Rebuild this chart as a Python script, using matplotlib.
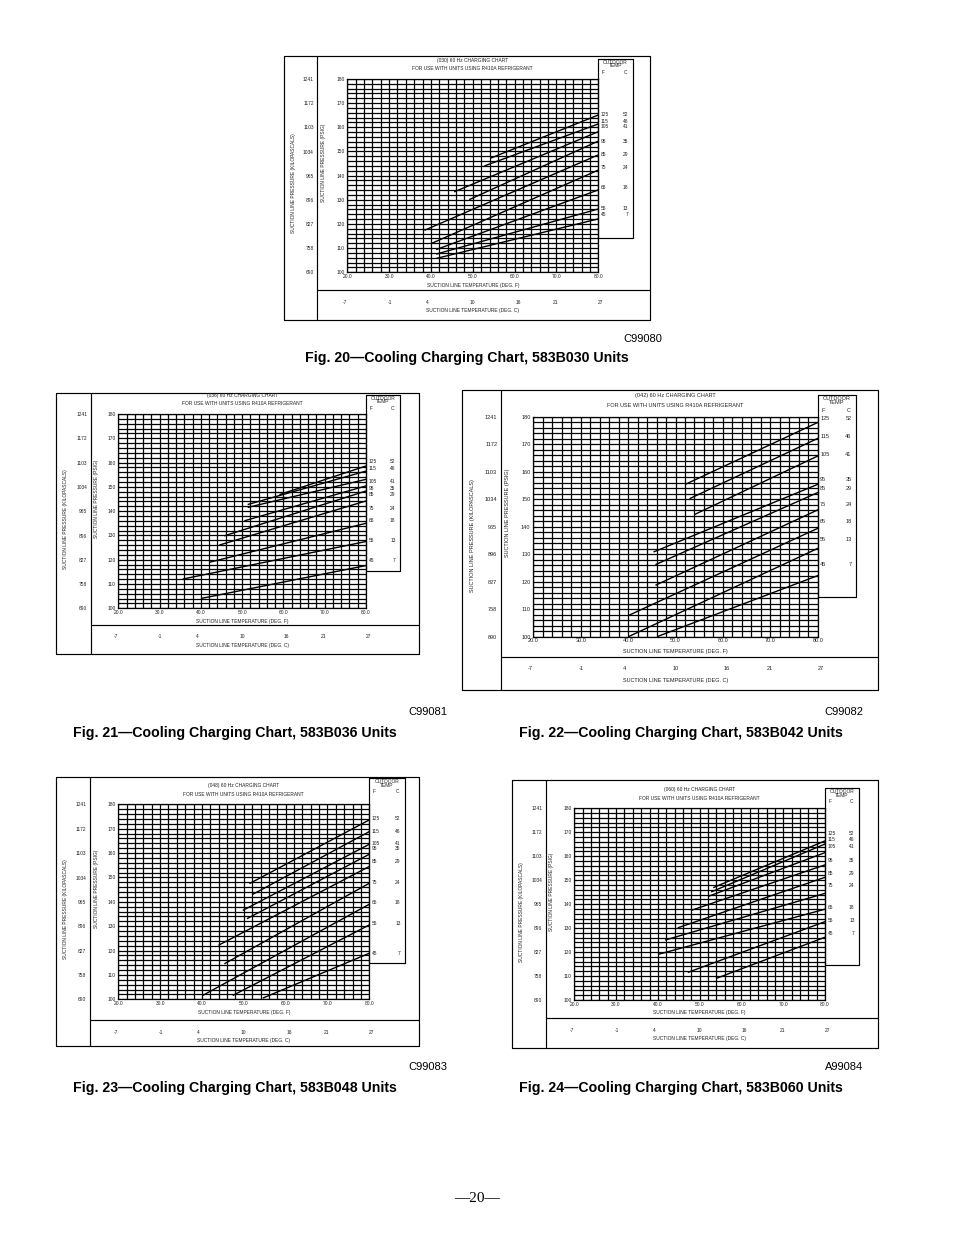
import numpy as np
import matplotlib.pyplot as plt
from matplotlib.transforms import blended_transform_factory

plt.rcParams['font.family'] = ['Liberation Sans', 'DejaVu Sans']

W, H = 954, 1235

outdoor_f = [125, 115, 105, 95, 85, 75, 65, 55, 45]
outdoor_c = [52, 46, 41, 35, 29, 24, 18, 13, 7]
psig_ticks = [100, 110, 120, 130, 140, 150, 160, 170, 180]
kpa_ticks = [690, 758, 827, 896, 965, 1034, 1103, 1172, 1241]
degf_ticks = [20, 30, 40, 50, 60, 70, 80]
degc_ticks = [-7, -1, 4, 10, 16, 21, 27]

# each line runs from (start temp, start pressure) up to 80 F (end pressure)
u030_t0 = [54.5, 52.9, 45.7, 49.3, 38.6, 40.2, 41.4, 41.4, 41.4]
u030_p0 = [147.4, 144.1, 133.4, 130.2, 117.5, 112.0, 109.5, 107.6, 105.8]
u030_p1 = [165.1, 161.4, 158.2, 154.3, 148.6, 142.3, 134.1, 126.2, 122.1]
u030_lab = [165.4, 162.5, 160.3, 154.2, 148.9, 143.2, 135.2, 126.6, 124.0]

u036_t0 = [59.2, 51.5, 51.5, 50.7, 45.8, 44.6, 42.2, 35.8, 40.2]
u036_p0 = [146.9, 142.8, 141.6, 136.1, 129.9, 126.1, 119.0, 112.1, 104.1]
u036_p1 = [158.6, 156.5, 153.1, 150.4, 148.3, 144.2, 135.0, 127.5, 117.6]
u036_lab = [160.4, 157.4, 152.2, 149.2, 147.0, 141.2, 136.0, 127.9, 119.6]

u042_t0 = [52.2, 53.1, 54.1, 45.5, 45.9, 45.9, 40.3, 40.3, 46.4]
u042_p0 = [155.5, 150.3, 144.5, 130.9, 126.3, 118.8, 107.9, 100.2, 100.2]
u042_p1 = [177.9, 172.1, 165.7, 155.4, 152.4, 146.1, 139.4, 132.1, 122.2]
u042_lab = [179.2, 172.7, 166.4, 157.2, 153.9, 147.9, 141.8, 135.5, 126.3]

u048_t0 = [51.5, 52.3, 49.9, 50.9, 44.1, 45.5, 40.3, 47.5, 54.7]
u048_p0 = [147.6, 143.2, 136.6, 133.2, 122.3, 114.7, 101.7, 101.7, 100.6]
u048_p1 = [173.6, 168.8, 163.6, 159.5, 154.5, 147.6, 139.0, 130.5, 118.9]
u048_lab = [174.3, 168.8, 164.0, 161.7, 156.5, 148.0, 139.8, 130.9, 118.9]

u060_t0 = [53.4, 52.9, 52.3, 48.3, 44.9, 41.9, 40.4, 47.3, 54.1]
u060_p0 = [147.0, 145.2, 143.4, 137.6, 130.2, 125.1, 119.2, 111.6, 109.1]
u060_p1 = [166.4, 165.1, 161.5, 156.4, 151.2, 144.5, 137.9, 132.7, 126.2]
u060_lab = [169.6, 166.8, 164.0, 158.4, 152.6, 147.6, 138.7, 133.1, 127.6]

fig = plt.figure(figsize=(W / 100, H / 100), dpi=100)
page = fig.add_axes([0, 0, 1, 1])
page.set_xlim(0, W)
page.set_ylim(H, 0)
page.axis('off')


def c2f(c):
    return c * 9 / 5 + 32


def seg(x, y, lw=0.85):
    page.plot(x, y, color='black', lw=lw, solid_capstyle='butt')


def chart(code, box, inner, plot, sep, leg, t0, p0, p1, lab):
    l, t, r, b = box
    pl, pr, pt, pb = plot
    lr, lt, lb = leg
    s = (pb - pt) / 193.3
    fs = 3.5 * s

    seg([l, r, r, l, l], [t, t, b, b, t])
    seg([inner, inner], [t, b])
    seg([inner, r], [sep, sep])
    seg([pr, lr, lr, pr, pr], [lt, lt, lb, lb, lt])

    ax = fig.add_axes([pl / W, 1 - pb / H, (pr - pl) / W, (pb - pt) / H])
    ax.set_xlim(20, 80)
    ax.set_ylim(100, 180)
    ax.set_xticks(np.arange(20, 81, 2), minor=True)
    ax.set_yticks(np.arange(100, 181, 2), minor=True)
    ax.set_xticks(degf_ticks, [f'{v:.1f}' for v in degf_ticks])
    ax.set_yticks(psig_ticks, [str(v) for v in psig_ticks])
    ax.grid(which='both', color='black', lw=0.9)
    ax.tick_params(which='both', length=0, labelsize=fs, colors='#222222')
    ax.tick_params(axis='x', pad=1.2)
    ax.tick_params(axis='y', pad=2.0)
    for sp in ax.spines.values():
        sp.set_linewidth(0.9)
    for i in range(len(outdoor_f)):
        ax.plot([t0[i], 80], [p0[i], p1[i]], color='black', lw=1.0)

    # kilopascal scale
    kloc = (inner - 3.5 - pl) / (pr - pl)
    ky = ax.secondary_yaxis(kloc, functions=(lambda p: np.asarray(p) * 6.895,
                                             lambda k: np.asarray(k) / 6.895))
    ky.set_yticks(kpa_ticks, [str(v) for v in kpa_ticks])
    ky.tick_params(length=0, pad=0, labelsize=fs, colors='#222222')
    ky.spines['left'].set_visible(False)

    tk = dict(fontsize=fs, color='#222222', ha='center', va='center')

    # celsius scale, placed on the F data axis
    trc = blended_transform_factory(ax.transData, page.transData)
    for c in degc_ticks:
        ax.text(c2f(c), sep + 12.0, str(c), transform=trc, clip_on=False, **tk)

    cxm = (pl + pr) / 2
    cym = (pt + pb) / 2
    page.text(cxm, pt - 18.5 * s, f'({code}) 60 Hz CHARGING CHART', **tk)
    page.text(cxm, pt - 10.0 * s, 'FOR USE WITH UNITS USING R410A REFRIGERANT', **tk)
    page.text(cxm, pb + 12.8 * s, 'SUCTION LINE TEMPERATURE (DEG. F)', **tk)
    page.text(cxm, sep + 20.5 * s, 'SUCTION LINE TEMPERATURE (DEG. C)', **tk)
    page.text(l + 0.28 * (inner - l), cym + 0.04 * (pb - pt),
              'SUCTION LINE PRESSURE (KILOPASCALS)', rotation=90, **tk)
    page.text(inner + 0.22 * (pl - inner), cym - 0.065 * (pb - pt),
              'SUCTION LINE PRESSURE (PSIG)', rotation=90, **tk)

    lx = (pr + lr) / 2
    page.text(lx, lt + 3.0 * s, 'OUTDOOR', **tk)
    page.text(lx, lt + 6.8 * s, 'TEMP', **tk)
    page.text(pr + 5, lt + 13.5 * s, 'F', **tk)
    page.text(lr - 7.5, lt + 13.5 * s, 'C', **tk)

    tr = blended_transform_factory(page.transData, ax.transData)
    for f, c, y in zip(outdoor_f, outdoor_c, lab):
        ax.text(pr + 2.5, y, str(f), transform=tr, fontsize=fs, color='#222222',
                ha='left', va='center', clip_on=False)
        ax.text(lr - 4.5, y, str(c), transform=tr, fontsize=fs, color='#222222',
                ha='right', va='center', clip_on=False)


chart('030', (284, 56, 650, 320), 317.3, (347.3, 598.3, 79, 272.3), 290,
      (632.7, 59, 237.7), u030_t0, u030_p0, u030_p1, u030_lab)
chart('036', (56, 393, 419, 654), 90.7, (118.3, 366, 414, 608.3), 625,
      (400, 395, 571), u036_t0, u036_p0, u036_p1, u036_lab)
chart('042', (462, 390, 878, 690), 500.7, (533.3, 817.7, 416.7, 636.7), 656.7,
      (856, 395, 596.7), u042_t0, u042_p0, u042_p1, u042_lab)
chart('048', (56, 777, 419, 1046), 90, (118.3, 369.3, 804.3, 999.3), 1020,
      (405, 778.3, 963.3), u048_t0, u048_p0, u048_p1, u048_lab)
chart('060', (512, 780, 878, 1048), 545.7, (574.3, 825, 808.3, 1000), 1018.3,
      (859, 788.3, 965), u060_t0, u060_p0, u060_p1, u060_lab)

captions = [
    (467, 358, 662, 339, 'Fig. 20\u2014Cooling Charging Chart, 583B030 Units', 'C99080'),
    (235, 733, 447, 712, 'Fig. 21\u2014Cooling Charging Chart, 583B036 Units', 'C99081'),
    (681, 733, 863, 712, 'Fig. 22\u2014Cooling Charging Chart, 583B042 Units', 'C99082'),
    (235, 1088, 447, 1067, 'Fig. 23\u2014Cooling Charging Chart, 583B048 Units', 'C99083'),
    (681, 1088, 863, 1067, 'Fig. 24\u2014Cooling Charging Chart, 583B060 Units', 'A99084'),
]
for x, y, cx, cy, title, tag in captions:
    page.text(x, y, title, fontsize=10.2, fontweight='bold', ha='center', va='center')
    page.text(cx, cy, tag, fontsize=8, ha='right', va='center')

page.text(477, 1199, '\u201420\u2014', fontsize=11, ha='center', va='center',
          family=['Liberation Serif', 'DejaVu Serif'])

fig.savefig('out.png', dpi=100, facecolor='white')
